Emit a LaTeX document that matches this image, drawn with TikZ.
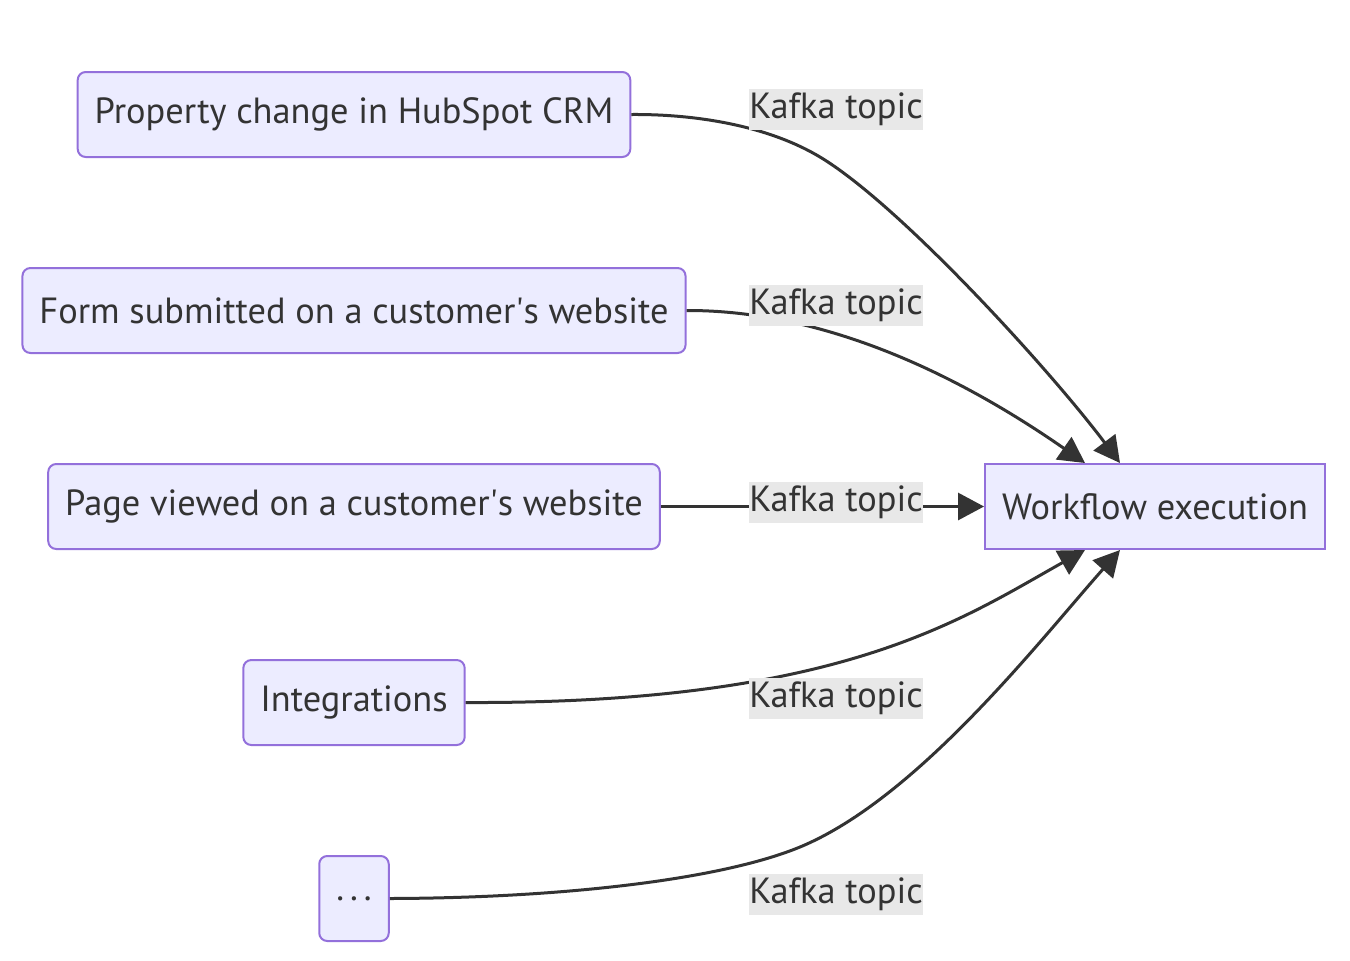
\documentclass[tikz,border=0pt]{standalone}
\usepackage{fontspec}
\setmainfont{PT Sans}
\usetikzlibrary{arrows.meta}
\definecolor{boxfill}{HTML}{ECECFF}
\definecolor{boxline}{HTML}{9370DB}
\definecolor{ink}{HTML}{333333}
\definecolor{topicbg}{HTML}{E8E8E8}
\begin{document}
\begin{tikzpicture}[x=0.5pt,y=-0.5pt,font=\fontsize{18.2}{21}\selectfont,text=ink,
		event/.style={draw=boxline,fill=boxfill,line width=1pt,rounded corners=4pt,inner xsep=8.5pt,minimum height=42.5pt},
		sink/.style={event,sharp corners},
		topic/.style={fill=topicbg,inner xsep=0pt,inner ysep=1pt,minimum height=20.5pt},
		feed/.style={draw=ink,line width=1.5pt,-{Triangle[length=13pt,width=13.5pt]}}]
		\useasboundingbox (0,0) rectangle (1350,960);
		\node[event] (crm) at (354,114.5) {Property change in HubSpot CRM};
		\node[event] (form) at (354,310.5) {Form submitted on a customer\textquotesingle s website};
		\node[event] (page) at (354,506.5) {Page viewed on a customer\textquotesingle s website};
		\node[event] (integ) at (354,702.5) {Integrations};
		\node[event] (more) at (354,898.5) {.\,.\,.};
		\node[sink] (wf) at (1155,506.5) {Workflow execution};
		\coordinate (wfNa) at ([xshift=-17.5pt]wf.north);
		\coordinate (wfNb) at ([xshift=-35pt]wf.north);
		\coordinate (wfSa) at ([xshift=-17.5pt]wf.south);
		\coordinate (wfSb) at ([xshift=-35pt]wf.south);
		\coordinate (bendcrm) at (820,157);
		\coordinate (bendmore) at (800,847);
		\draw[feed] (crm.east) .. controls (700,114) and (770,127) .. (bendcrm)
			.. controls (900,205) and (1050,370) .. (wfNa);
		\draw[feed] (form.east) .. controls (840,310) and (980,390) .. (wfNb);
		\draw[feed] (page.east) -- (wf.west);
		\draw[feed] (integ.east) .. controls (840,704) and (960,620) .. (wfSb);
		\draw[feed] (more.east) .. controls (560,898) and (720,880) .. (bendmore)
			.. controls (918,798) and (1040,640) .. (wfSa);
		% labels on top of the lines
		\node[topic] (tcrm) at (836,109) {Kafka topic};
		\node[topic] (tform) at (836,305.5) {Kafka topic};
		\node[topic] (tpage) at (836,502) {Kafka topic};
		\node[topic] (tinteg) at (836,698) {Kafka topic};
		\node[topic] (tmore) at (836,894) {Kafka topic};
	\end{tikzpicture}
\end{document}
